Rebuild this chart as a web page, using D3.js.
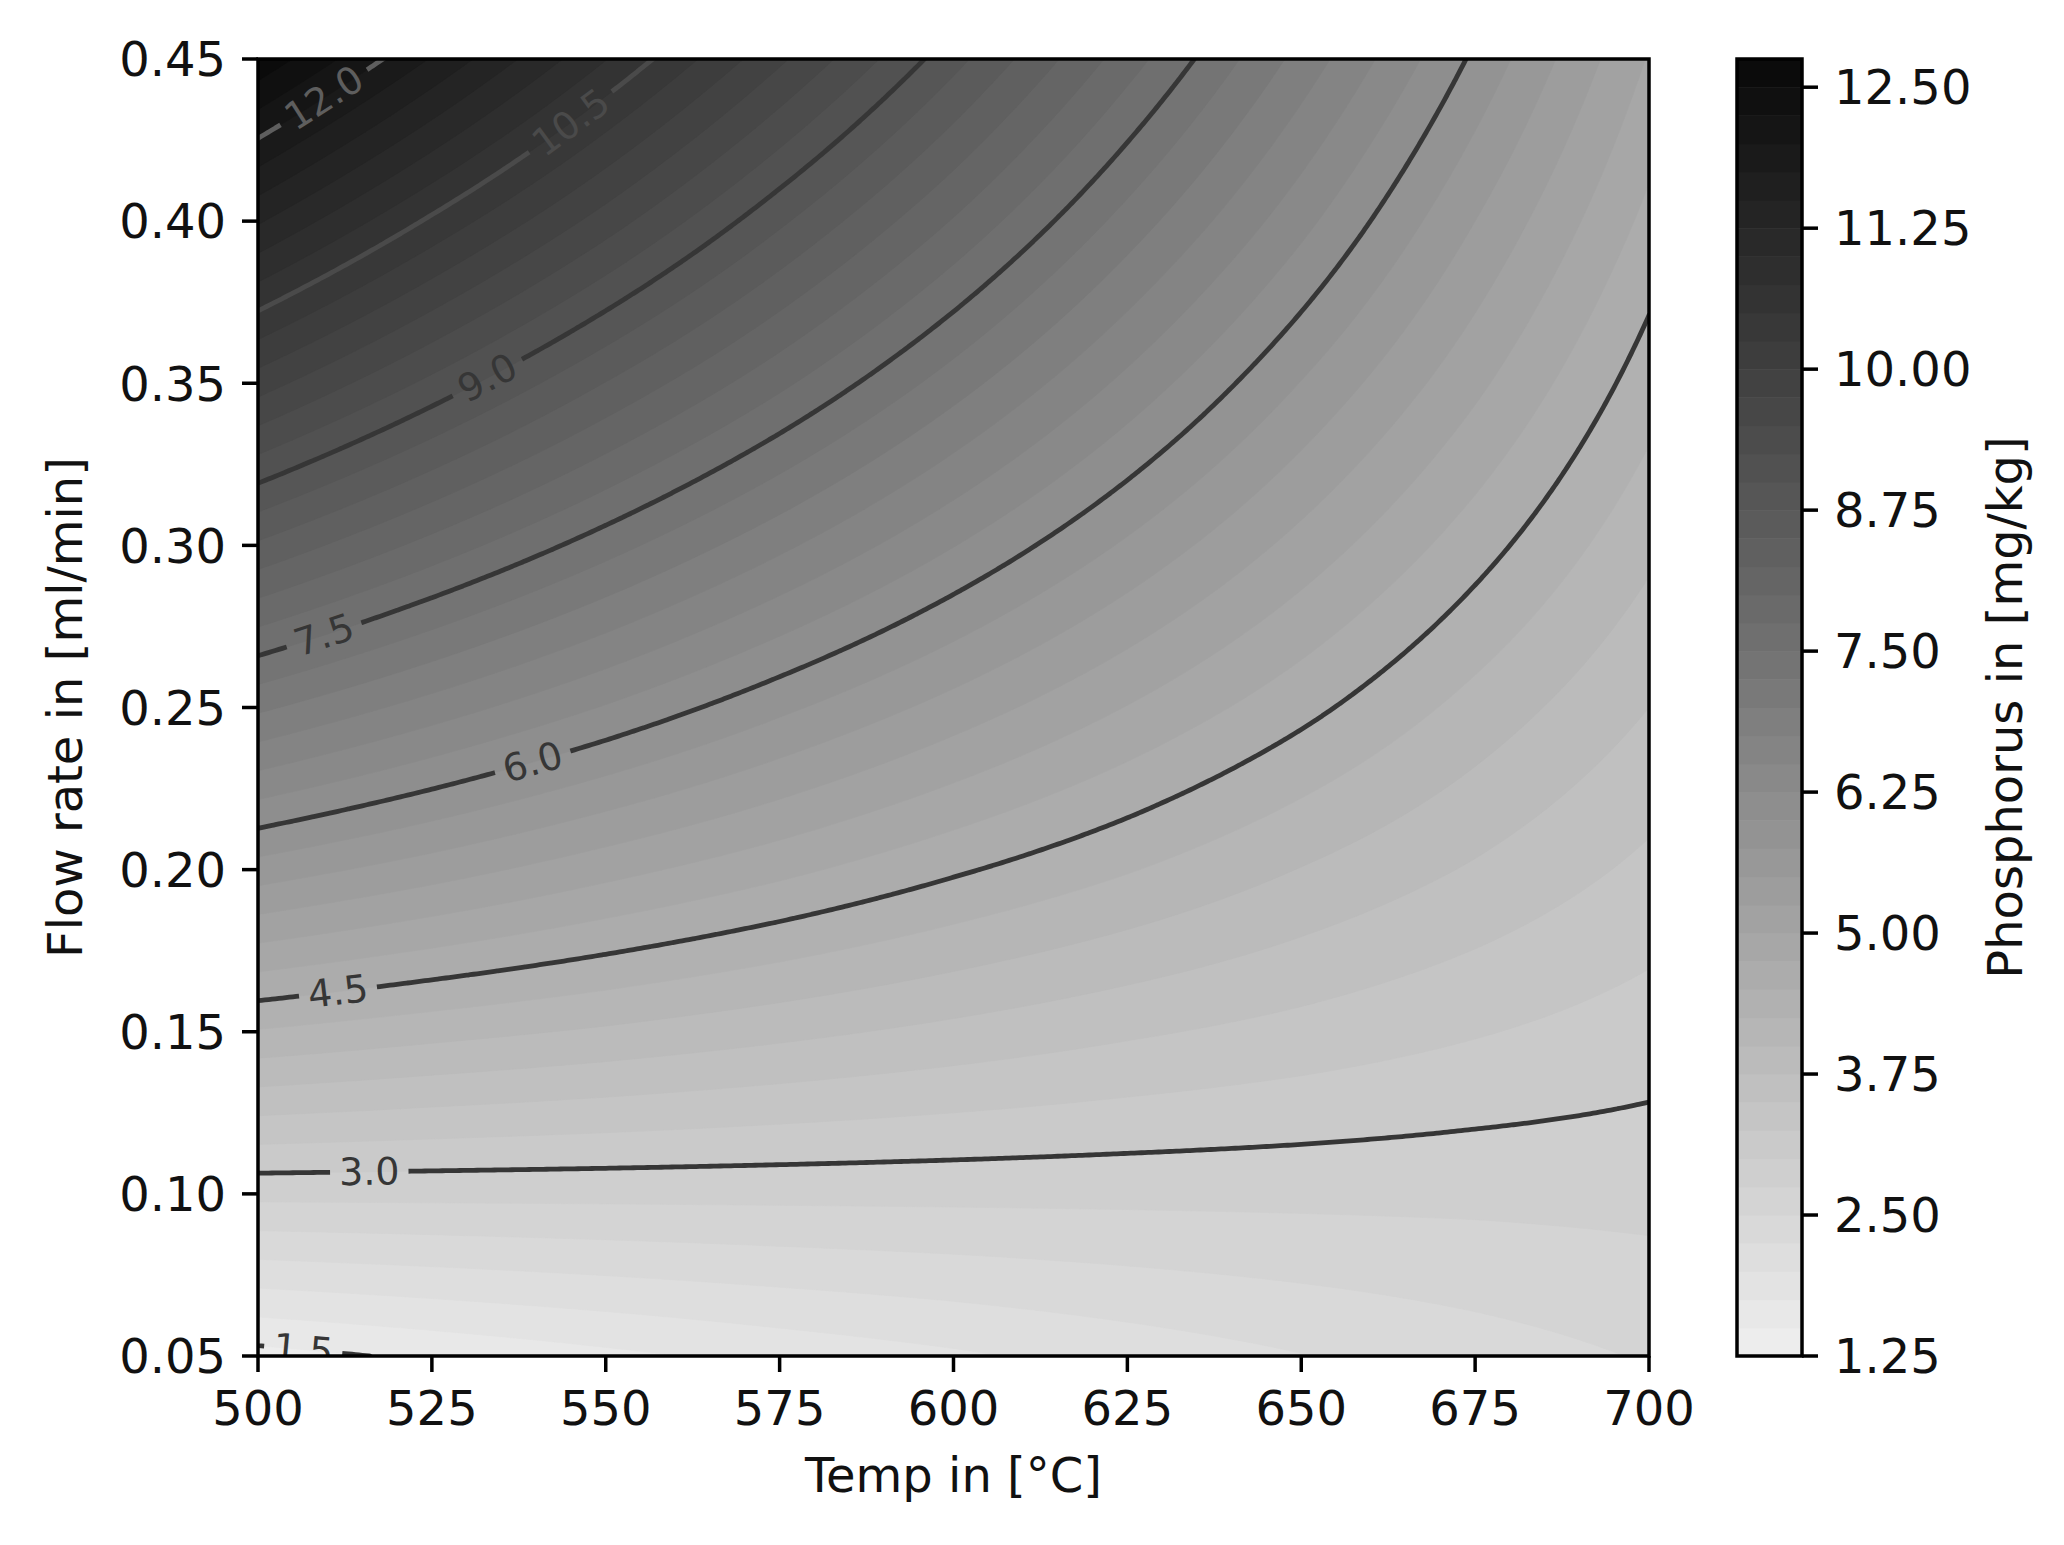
<!DOCTYPE html>
<html>
<head>
<meta charset="utf-8">
<script src="https://cdn.jsdelivr.net/npm/d3@7"></script>
<style>
  body { margin: 0; background: #fff; }
  text { font-family: "DejaVu Sans", sans-serif; }
</style>
</head>
<body>
<svg id="chart" width="2064" height="1545"></svg>
<script>
// grid values: one row per flow rate, one column per temperature
var temps = [500, 525, 550, 575, 600, 625, 650, 675, 700];
var flows = [0.05, 0.10, 0.15, 0.20, 0.25, 0.30, 0.35, 0.40, 0.45];
var phosphorus = [
  [1.41, 1.55, 1.69, 1.83, 1.96, 2.10, 2.24, 2.38, 2.52],   // 0.05
  [2.82, 2.82, 2.82, 2.82, 2.82, 2.82, 2.82, 2.82, 2.83],   // 0.10
  [4.23, 4.09, 3.96, 3.82, 3.68, 3.54, 3.41, 3.27, 3.13],   // 0.15
  [5.64, 5.37, 5.09, 4.82, 4.54, 4.27, 3.99, 3.72, 3.44],   // 0.20
  [7.05, 6.64, 6.23, 5.81, 5.40, 4.99, 4.58, 4.16, 3.75],   // 0.25
  [8.46, 7.91, 7.36, 6.81, 6.26, 5.71, 5.16, 4.61, 4.06],   // 0.30
  [9.87, 9.18, 8.49, 7.81, 7.12, 6.43, 5.74, 5.06, 4.37],   // 0.35
  [11.28, 10.45, 9.63, 8.80, 7.98, 7.15, 6.33, 5.50, 4.68], // 0.40
  [12.69, 11.73, 10.76, 9.80, 8.84, 7.87, 6.91, 5.95, 4.98] // 0.45
];

var lineLevels = [1.5, 3.0, 4.5, 6.0, 7.5, 9.0, 10.5, 12.0];
var labelTemps = [506.5, 516, 511.5, 539.5, 509.5, 533, 545, 509.5]; // where each line is labelled
var tempTicks = [500, 525, 550, 575, 600, 625, 650, 675, 700];
var flowTicks = [0.05, 0.10, 0.15, 0.20, 0.25, 0.30, 0.35, 0.40, 0.45];
var barTicks = [1.25, 2.50, 3.75, 5.00, 6.25, 7.50, 8.75, 10.00, 11.25, 12.50];
var fillMin = 1.25, fillMax = 12.75, fillStep = 0.25;

var svg = d3.select("#chart");
var x0 = 258, x1 = 1649, y0 = 59, y1 = 1356;
var x = d3.scaleLinear().domain([500, 700]).range([x0, x1]);
var y = d3.scaleLinear().domain([0.05, 0.45]).range([y1, y0]);

var fillLevels = d3.range(0, Math.round((fillMax - fillMin) / fillStep) + 1)
  .map(function(i) { return fillMin + i * fillStep; });
var shade = d3.scaleLinear().domain([fillMin, fillMax]).range(["#f0f0f0", "#080808"]);
function bandColor(i) { return shade((fillLevels[i] + fillLevels[i + 1]) / 2); }
var lineColor = d3.scaleLinear().domain([9, 12]).range(["#363636", "#5e5e5e"]).clamp(true);

// bilinear lookup in the grid
function lookup(arr, v) {
  var i = d3.bisectRight(arr, v) - 1;
  i = Math.max(0, Math.min(arr.length - 2, i));
  return [i, (v - arr[i]) / (arr[i + 1] - arr[i])];
}
function valueAt(t, f) {
  var a = lookup(temps, t), b = lookup(flows, f);
  var i = a[0], u = a[1], j = b[0], v = b[1];
  return (1 - u) * (1 - v) * phosphorus[j][i] + u * (1 - v) * phosphorus[j][i + 1] +
         (1 - u) * v * phosphorus[j + 1][i] + u * v * phosphorus[j + 1][i + 1];
}

// fine raster for the contour generator (row 0 = top of the plot)
var nx = 401, ny = 321;
var tx = d3.scaleLinear().domain([0, nx - 1]).range([500, 700]);
var fy = d3.scaleLinear().domain([0, ny - 1]).range([0.45, 0.05]);
var values = new Array(nx * ny);
for (var j = 0; j < ny; j++) {
  for (var i = 0; i < nx; i++) values[j * nx + i] = valueAt(tx(i), fy(j));
}
function px(p) { return [x(tx(p[0] - 0.5)), y(fy(p[1] - 0.5))]; }

var proj = d3.geoTransform({ point: function(cx, cy) {
  var q = px([cx, cy]); this.stream.point(q[0], q[1]);
} });
var geo = d3.geoPath(proj);

svg.append("clipPath").attr("id", "plotclip")
  .append("rect").attr("x", x0).attr("y", y0).attr("width", x1 - x0).attr("height", y1 - y0);

var plot = svg.append("g").attr("clip-path", "url(#plotclip)");

// filled bands
var bands = d3.contours().size([nx, ny]).thresholds(fillLevels.slice(0, -1))(values);
plot.append("g").selectAll("path")
  .data(bands)
  .enter().append("path")
  .attr("d", geo)
  .attr("fill", function(d, k) { return bandColor(k); })
  .attr("stroke", function(d, k) { return bandColor(k); })
  .attr("stroke-width", 0.6);

// contour lines, with the raster border removed
function onSameSide(p, q) {
  return (p[0] <= 0 && q[0] <= 0) || (p[0] >= nx && q[0] >= nx) ||
         (p[1] <= 0 && q[1] <= 0) || (p[1] >= ny && q[1] >= ny);
}
function ringToLines(ring) {
  var pts = ring.slice();
  var first = pts[0], last = pts[pts.length - 1];
  if (first[0] === last[0] && first[1] === last[1]) pts.pop();
  var n = pts.length, start = 0, out = [], cur = [];
  for (var k = 0; k < n; k++) {
    if (onSameSide(pts[k], pts[(k + 1) % n])) { start = k + 1; break; }
  }
  for (var m = 0; m < n; m++) {
    var a = pts[(start + m) % n], b = pts[(start + m + 1) % n];
    if (onSameSide(a, b)) { if (cur.length > 1) out.push(cur); cur = []; continue; }
    if (!cur.length) cur.push(px(a));
    cur.push(px(b));
  }
  if (cur.length > 1) out.push(cur);
  return out;
}
function cumLengths(line) {
  var L = [0];
  for (var k = 1; k < line.length; k++) {
    L.push(L[k - 1] + Math.hypot(line[k][0] - line[k - 1][0], line[k][1] - line[k - 1][1]));
  }
  return L;
}
function pointAt(line, L, s) {
  s = Math.max(0, Math.min(L[L.length - 1], s));
  var k = Math.max(1, d3.bisectLeft(L, s));
  k = Math.min(k, L.length - 1);
  var seg = L[k] - L[k - 1], r = seg > 0 ? (s - L[k - 1]) / seg : 0;
  return [line[k - 1][0] + r * (line[k][0] - line[k - 1][0]),
          line[k - 1][1] + r * (line[k][1] - line[k - 1][1])];
}

var isoLines = d3.contours().size([nx, ny]).thresholds(lineLevels)(values);
var lineGen = d3.line();
var lineLayer = plot.append("g");
var labelLayer = plot.append("g");
var pad = 9, lineW = 4.8;

isoLines.forEach(function(c, idx) {
  var lines = [];
  c.coordinates.forEach(function(poly) {
    poly.forEach(function(ring) { lines = lines.concat(ringToLines(ring)); });
  });
  if (!lines.length) return;
  var col = lineColor(c.value);
  var lens = lines.map(function(l) { var L = cumLengths(l); return L[L.length - 1]; });
  var main = d3.maxIndex(lens);

  var label = labelLayer.append("text")
    .attr("font-size", 38)
    .attr("fill", col)
    .attr("text-anchor", "middle")
    .attr("dominant-baseline", "central")
    .text(d3.format(".1f")(c.value));
  var w = label.node().getComputedTextLength();

  lines.forEach(function(line, li) {
    if (li !== main) {
      lineLayer.append("path").attr("d", lineGen(line)).attr("fill", "none")
        .attr("stroke", col).attr("stroke-width", lineW);
      return;
    }
    var L = cumLengths(line);
    var targetX = x(labelTemps[idx]);
    var best = 0;
    line.forEach(function(p, k) {
      if (Math.abs(p[0] - targetX) < Math.abs(line[best][0] - targetX)) best = k;
    });
    var s0 = L[best];
    var c0 = pointAt(line, L, s0);
    var pa = pointAt(line, L, s0 - w / 2), pb = pointAt(line, L, s0 + w / 2);
    var ang = Math.atan2(pb[1] - pa[1], pb[0] - pa[0]) * 180 / Math.PI;
    if (ang > 90) ang -= 180;
    if (ang < -90) ang += 180;
    label.attr("transform", "translate(" + c0[0] + "," + c0[1] + ") rotate(" + ang + ")");

    var g = w / 2 + pad;
    var before = [], after = [];
    line.forEach(function(p, k) {
      if (L[k] < s0 - g) before.push(p);
      if (L[k] > s0 + g) after.push(p);
    });
    if (before.length) before.push(pointAt(line, L, s0 - g));
    if (after.length) after.unshift(pointAt(line, L, s0 + g));
    [before, after].forEach(function(part) {
      if (part.length > 1) {
        lineLayer.append("path").attr("d", lineGen(part)).attr("fill", "none")
          .attr("stroke", col).attr("stroke-width", lineW);
      }
    });
  });
});

// axes
var tickLen = 16, tickPad = 16, tickW = 3.5, fs = 48;

var xAxis = svg.append("g");
tempTicks.forEach(function(t) {
  xAxis.append("line").attr("x1", x(t)).attr("x2", x(t)).attr("y1", y1).attr("y2", y1 + tickLen)
    .attr("stroke", "#000").attr("stroke-width", tickW);
  xAxis.append("text").attr("x", x(t)).attr("y", y1 + tickLen + tickPad + 0.77 * fs)
    .attr("text-anchor", "middle").attr("font-size", fs).attr("fill", "#111").text(t);
});
var yAxis = svg.append("g");
flowTicks.forEach(function(f) {
  yAxis.append("line").attr("x1", x0 - tickLen).attr("x2", x0).attr("y1", y(f)).attr("y2", y(f))
    .attr("stroke", "#000").attr("stroke-width", tickW);
  yAxis.append("text").attr("x", x0 - tickLen - tickPad).attr("y", y(f)).attr("dy", "0.36em")
    .attr("text-anchor", "end").attr("font-size", fs).attr("fill", "#111").text(d3.format(".2f")(f));
});
svg.append("rect").attr("x", x0).attr("y", y0).attr("width", x1 - x0).attr("height", y1 - y0)
  .attr("fill", "none").attr("stroke", "#000").attr("stroke-width", 3.5);

svg.append("text").attr("x", (x0 + x1) / 2).attr("y", 1492)
  .attr("text-anchor", "middle").attr("font-size", fs).attr("fill", "#111").text("Temp in [°C]");
svg.append("text").attr("transform", "translate(82," + ((y0 + y1) / 2) + ") rotate(-90)")
  .attr("text-anchor", "middle").attr("font-size", fs).attr("fill", "#111").text("Flow rate in [ml/min]");

// colorbar
var cb0 = 1737, cb1 = 1802;
var cy = d3.scaleLinear().domain([fillMin, fillMax]).range([y1, y0]);
var bar = svg.append("g");
bar.selectAll("rect")
  .data(d3.range(fillLevels.length - 1))
  .enter().append("rect")
  .attr("x", cb0)
  .attr("width", cb1 - cb0)
  .attr("y", function(k) { return cy(fillLevels[k + 1]); })
  .attr("height", function(k) { return cy(fillLevels[k]) - cy(fillLevels[k + 1]) + 0.5; })
  .attr("fill", function(k) { return bandColor(k); });
bar.append("rect").attr("x", cb0).attr("y", y0).attr("width", cb1 - cb0).attr("height", y1 - y0)
  .attr("fill", "none").attr("stroke", "#000").attr("stroke-width", 3.5);
barTicks.forEach(function(v) {
  bar.append("line").attr("x1", cb1).attr("x2", cb1 + tickLen).attr("y1", cy(v)).attr("y2", cy(v))
    .attr("stroke", "#000").attr("stroke-width", tickW);
  bar.append("text").attr("x", cb1 + tickLen + tickPad).attr("y", cy(v)).attr("dy", "0.36em")
    .attr("font-size", fs).attr("fill", "#111").text(d3.format(".2f")(v));
});
svg.append("text").attr("transform", "translate(2022," + ((y0 + y1) / 2) + ") rotate(-90)")
  .attr("text-anchor", "middle").attr("font-size", fs).attr("fill", "#111").text("Phosphorus in [mg/kg]");
</script>
</body>
</html>
